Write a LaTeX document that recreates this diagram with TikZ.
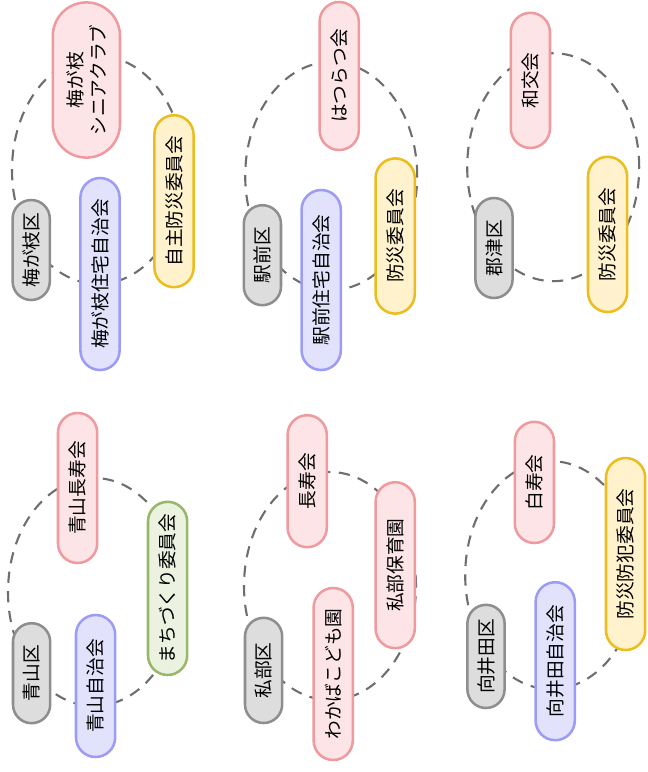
\documentclass[tikz,border=0pt]{standalone}
\usepackage{fontspec}
\setmainfont{Noto Sans CJK JP}
\usetikzlibrary{shapes.misc, shapes.geometric}

\definecolor{pinkline}{HTML}{EE9A9F}
\definecolor{pinkfill}{HTML}{FDE5E7}
\definecolor{goldline}{HTML}{EBBD1E}
\definecolor{goldfill}{HTML}{FFF2CC}
\definecolor{blueline}{HTML}{9C9CF6}
\definecolor{bluefill}{HTML}{E2E2FD}
\definecolor{grayline}{HTML}{8E8E8E}
\definecolor{grayfill}{HTML}{DDDDDD}
\definecolor{greenline}{HTML}{98B869}
\definecolor{greenfill}{HTML}{EBF2E0}
\definecolor{ringgray}{HTML}{6E6E6E}

\tikzset{
  ring/.style = {ellipse, draw = ringgray, line width = 1.5pt, dash pattern = on 8pt off 6pt,
    minimum width = 4.3cm, minimum height = 5.7cm, inner sep = 0pt},
  orgbox/.style = {rounded rectangle, rotate = 90, line width = 1.8pt, minimum height = 0.98cm,
    inner xsep = 0pt, inner ysep = 0pt, font = \fontsize{13.3}{16.3}\selectfont},
  pinkbox/.style = {orgbox, draw = pinkline, fill = pinkfill},
  goldbox/.style = {orgbox, draw = goldline, fill = goldfill},
  bluebox/.style = {orgbox, draw = blueline, fill = bluefill},
  greenbox/.style = {orgbox, draw = greenline, fill = greenfill},
  areabox/.style = {orgbox, draw = grayline, fill = grayfill, minimum height = 0.93cm}
}

\begin{document}
\begin{tikzpicture}
    \useasboundingbox (0, 0) rectangle (16.2, -19.3);

    % 梅が枝区
    \node[ring] (ring umegae) at (2.45, -4.25) {};
    \node[pinkbox, align = center, minimum height = 1.68cm, minimum width = 3.88cm] (umegae club) at (2.16, -2.00) {梅が枝 \\ シニアクラブ};
    \node[goldbox, minimum width = 4.30cm] (umegae bosai) at (4.35, -5.03) {自主防災委員会};
    \node[bluebox, minimum width = 4.80cm] (umegae jichikai) at (2.50, -6.85) {梅が枝住宅自治会};
    \node[areabox, minimum width = 2.50cm] (umegae ku) at (0.78, -6.25) {梅が枝区};

    % 駅前区
    \node[ring] (ring ekimae) at (8.28, -4.40) {};
    \node[pinkbox, minimum width = 3.70cm] (ekimae hatsuratsu) at (8.48, -1.90) {はつらつ会};
    \node[goldbox, minimum width = 3.88cm] (ekimae bosai) at (9.88, -5.90) {防災委員会};
    \node[bluebox, minimum width = 4.50cm] (ekimae jichikai) at (8.03, -7.00) {駅前住宅自治会};
    \node[areabox, minimum width = 2.50cm] (ekimae ku) at (6.56, -6.38) {駅前区};

    % 郡津区
    \node[ring] (ring kozu) at (13.83, -4.18) {};
    \node[pinkbox, minimum width = 3.38cm] (kozu wako) at (13.26, -2.01) {和交会};
    \node[goldbox, minimum width = 3.88cm] (kozu bosai) at (15.19, -5.86) {防災委員会};
    \node[areabox, minimum width = 2.50cm] (kozu ku) at (12.35, -6.20) {郡津区};

    % 青山区
    \node[ring] (ring aoyama) at (2.35, -14.80) {};
    \node[pinkbox, minimum width = 3.75cm] (aoyama choju) at (1.94, -12.20) {青山長寿会};
    \node[greenbox, minimum width = 4.33cm] (aoyama machi) at (4.19, -14.71) {まちづくり委員会};
    \node[bluebox, minimum width = 3.55cm] (aoyama jichikai) at (2.39, -17.15) {青山自治会};
    \node[areabox, minimum width = 2.50cm] (aoyama ku) at (0.79, -16.83) {青山区};

    % 私部区
    \node[ring] (ring kisaibe) at (8.25, -14.65) {};
    \node[pinkbox, minimum width = 3.30cm] (kisaibe choju) at (7.68, -12.03) {長寿会};
    \node[pinkbox, minimum width = 4.15cm] (kisaibe hoiku) at (9.88, -14.13) {私部保育園};
    \node[pinkbox, minimum width = 4.30cm] (kisaibe wakaba) at (8.33, -16.85) {わかばこども園};
    \node[areabox, minimum width = 2.63cm] (kisaibe ku) at (6.59, -16.76) {私部区};

    % 向井田区
    \node[ring] (ring mukaida) at (13.78, -14.38) {};
    \node[pinkbox, minimum width = 3.03cm] (mukaida hakuju) at (13.36, -12.06) {白寿会};
    \node[goldbox, minimum width = 4.80cm] (mukaida bohan) at (15.64, -13.85) {防災防犯委員会};
    \node[bluebox, minimum width = 3.95cm] (mukaida jichikai) at (13.88, -16.53) {向井田自治会};
    \node[areabox, minimum width = 2.58cm] (mukaida ku) at (12.15, -16.41) {向井田区};
\end{tikzpicture}
\end{document}
